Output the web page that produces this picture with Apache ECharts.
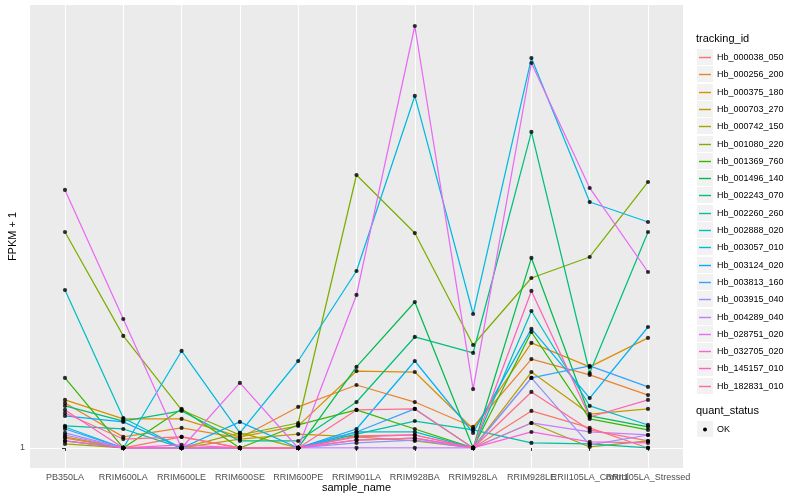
<!DOCTYPE html>
<html><head><meta charset="utf-8">
<script src="https://cdn.jsdelivr.net/npm/echarts@6/dist/echarts.min.js"></script>
<style>html,body{margin:0;padding:0;background:#fff}#c{width:800px;height:500px}</style>
</head><body><div id="c"></div>
<script>
// ---- categories / labels ----
const categories = ['PB350LA','RRIM600LA','RRIM600LE','RRIM600SE','RRIM600PE','RRIM901LA','RRIM928BA','RRIM928LA','RRIM928LE','RRII105LA_Control','RRII105LA_Stressed'];
const trackingIds = ['Hb_000038_050','Hb_000256_200','Hb_000375_180','Hb_000703_270','Hb_000742_150','Hb_001080_220','Hb_001369_760','Hb_001496_140','Hb_002243_070','Hb_002260_260','Hb_002888_020','Hb_003057_010','Hb_003124_020','Hb_003813_160','Hb_003915_040','Hb_004289_040','Hb_028751_020','Hb_032705_020','Hb_145157_010','Hb_182831_010'];
const quantStatus = ['OK'];
const yTickValues = [1];
const yLimits = [0.906, 8.872];

// ---- FPKM + 1 values per tracking_id (order = categories) ----
const Hb_000038_050 = [1.050, 1.000, 1.056, 1.000, 1.000, 1.061, 1.066, 1.000, 1.200, 1.104, 1.000];
const Hb_000256_200 = [1.248, 1.056, 1.104, 1.050, 1.224, 1.364, 1.254, 1.109, 1.550, 1.433, 1.298];
const Hb_000375_180 = [1.267, 1.154, 1.154, 1.056, 1.115, 1.461, 1.454, 1.098, 1.678, 1.491, 1.720];
const Hb_000703_270 = [1.056, 1.000, 1.000, 1.045, 1.071, 1.056, 1.035, 1.000, 1.454, 1.182, 1.212];
const Hb_000742_150 = [1.020, 1.000, 1.000, 1.077, 1.000, 1.040, 1.050, 1.000, 1.131, 1.005, 1.035];
const Hb_001080_220 = [2.899, 1.737, 1.206, 1.066, 1.131, 3.839, 2.884, 1.661, 2.311, 2.563, 3.709];
const Hb_001369_760 = [1.412, 1.000, 1.212, 1.000, 1.120, 1.206, 1.098, 1.000, 1.771, 1.154, 1.093];
const Hb_001496_140 = [1.035, 1.000, 1.000, 1.000, 1.000, 1.491, 2.053, 1.000, 2.551, 1.171, 1.109];
const Hb_002243_070 = [1.230, 1.142, 1.200, 1.035, 1.035, 1.254, 1.728, 1.597, 4.746, 1.447, 2.899];
const Hb_002260_260 = [1.115, 1.098, 1.000, 1.000, 1.000, 1.071, 1.142, 1.093, 1.025, 1.020, 1.000];
const Hb_002888_020 = [2.178, 1.159, 1.000, 1.000, 1.000, 1.082, 1.082, 1.000, 1.964, 1.230, 1.120];
const Hb_003057_010 = [1.109, 1.000, 1.613, 1.077, 1.535, 2.392, 5.667, 1.935, 6.832, 3.360, 3.045];
const Hb_003124_020 = [1.171, 1.137, 1.000, 1.137, 1.000, 1.098, 1.535, 1.077, 1.798, 1.279, 1.815];
const Hb_003813_160 = [1.098, 1.000, 1.000, 1.000, 1.000, 1.082, 1.212, 1.000, 1.412, 1.498, 1.351];
const Hb_003915_040 = [1.077, 1.000, 1.000, 1.000, 1.000, 1.025, 1.040, 1.000, 1.412, 1.015, 1.066];
const Hb_004289_040 = [1.066, 1.000, 1.000, 1.000, 1.000, 1.000, 1.000, 1.000, 1.131, 1.082, 1.066];
const Hb_028751_020 = [3.566, 1.888, 1.000, 1.378, 1.000, 2.126, 8.000, 1.337, 6.666, 3.601, 2.380];
const Hb_032705_020 = [1.035, 1.000, 1.015, 1.000, 1.000, 1.040, 1.050, 1.000, 1.082, 1.030, 1.025];
const Hb_145157_010 = [1.206, 1.000, 1.000, 1.000, 1.000, 1.056, 1.066, 1.000, 2.168, 1.165, 1.267];
const Hb_182831_010 = [1.188, 1.045, 1.056, 1.000, 1.000, 1.206, 1.212, 1.000, 1.318, 1.093, 1.035];

const seriesValues = [Hb_000038_050, Hb_000256_200, Hb_000375_180, Hb_000703_270, Hb_000742_150, Hb_001080_220, Hb_001369_760, Hb_001496_140, Hb_002243_070, Hb_002260_260, Hb_002888_020, Hb_003057_010, Hb_003124_020, Hb_003813_160, Hb_003915_040, Hb_004289_040, Hb_028751_020, Hb_032705_020, Hb_145157_010, Hb_182831_010];
const palette = ['#F8766D','#EA8331','#D89000','#C09B00','#A3A500','#7CAE00','#39B600','#00BB4E','#00BF7D','#00C1A3','#00BFC4','#00BAE0','#00B0F6','#35A2FF','#9590FF','#C77CFF','#E76BF3','#FA62DB','#FF62BC','#FF6C91'];

const FONT = '"Liberation Sans", Arial, Helvetica, sans-serif';
const lg = Math.log10;
const chart = echarts.init(document.getElementById('c'), null, {renderer: 'canvas'});

const lineSeries = seriesValues.map((vals, i) => ({
  type: 'line', name: trackingIds[i],
  data: vals.map((v, j) => [j, lg(v)]),
  showSymbol: false, symbol: 'none', silent: true, z: 2,
  lineStyle: {color: palette[i], width: 1.25},
  itemStyle: {color: palette[i]}
}));
const points = [];
seriesValues.forEach(vals => vals.forEach((v, j) => points.push([j, lg(v)])));

// legend (ggplot style) built from the name arrays
const legendX = 697, rowH = 17.3, firstRow = 57;
const g = [];
g.push({type: 'text', left: 696, top: 33, style: {text: 'tracking_id', font: '11px ' + FONT, fill: '#000'}});
trackingIds.forEach((id, i) => {
  const cy = Math.round(firstRow + rowH * i) + 0.5;
  g.push({type: 'rect', shape: {x: legendX, y: cy - 8.5, width: 16, height: 16}, style: {fill: '#F2F2F2'}});
  g.push({type: 'line', shape: {x1: legendX + 2, y1: cy, x2: legendX + 14, y2: cy}, style: {stroke: palette[i], lineWidth: 1.4}});
  g.push({type: 'text', style: {text: id, x: 717, y: cy, font: '9px ' + FONT, fill: '#000', verticalAlign: 'middle', textVerticalAlign: 'middle'}});
});
g.push({type: 'text', left: 696, top: 405, style: {text: 'quant_status', font: '11px ' + FONT, fill: '#000'}});
quantStatus.forEach((q, i) => {
  const cy = 429.5 + rowH * i;
  g.push({type: 'rect', shape: {x: legendX, y: cy - 8.5, width: 16, height: 16}, style: {fill: '#F2F2F2'}});
  g.push({type: 'circle', shape: {cx: legendX + 8, cy: cy, r: 2}, style: {fill: '#000'}});
  g.push({type: 'text', style: {text: q, x: 717, y: cy, font: '9px ' + FONT, fill: '#000', verticalAlign: 'middle', textVerticalAlign: 'middle'}});
});

const catIdx = categories.map((c, i) => i);
// ggplot prints every label even when two overlap; split them over two axes so none is dropped
const labelsA = catIdx.filter(i => i !== 9);
const labelsB = [9];
const xBase = {
  type: 'value', min: -0.6, max: categories.length - 1 + 0.6, position: 'bottom',
  axisLine: {show: false}
};
const labelStyle = {formatter: v => categories[Math.round(v)], fontFamily: FONT, fontSize: 9, color: '#4D4D4D', margin: 5, hideOverlap: false};

chart.setOption({
  animation: false,
  backgroundColor: '#FFFFFF',
  grid: {left: 30, right: 117, top: 5, bottom: 32, show: true, backgroundColor: '#EBEBEB', borderWidth: 0, containLabel: false, outerBoundsMode: 'none'},
  xAxis: [Object.assign({}, xBase, {
    name: 'sample_name', nameLocation: 'middle', nameGap: 14, nameMoveOverlap: false,
    nameTextStyle: {fontFamily: FONT, fontSize: 11, color: '#000'},
    axisTick: {show: true, length: 3, lineStyle: {color: '#333333', width: 1}, customValues: catIdx},
    axisLabel: Object.assign({customValues: labelsA}, labelStyle),
    splitLine: {show: true, lineStyle: {color: '#FFFFFF', width: 1.1}}
  }), Object.assign({}, xBase, {
    axisTick: {show: false, customValues: labelsB},
    axisLabel: Object.assign({customValues: labelsB}, labelStyle),
    splitLine: {show: false}
  })],
  yAxis: {
    type: 'value', min: lg(yLimits[0]), max: lg(yLimits[1]),
    name: 'FPKM + 1', nameLocation: 'middle', nameGap: 12, nameMoveOverlap: false,
    nameTextStyle: {fontFamily: FONT, fontSize: 11, color: '#000'},
    axisLine: {show: false},
    axisTick: {show: true, length: 3, lineStyle: {color: '#333333', width: 1}, customValues: yTickValues.map(lg)},
    axisLabel: {customValues: yTickValues.map(lg), formatter: v => String(Math.round(Math.pow(10, v) * 100) / 100), fontFamily: FONT, fontSize: 9, color: '#4D4D4D', margin: 5},
    splitLine: {show: true, lineStyle: {color: '#FFFFFF', width: 1.1}}
  },
  graphic: g,
  series: lineSeries.concat([{
    type: 'scatter', name: 'OK', data: points, symbol: 'circle', symbolSize: 4.2, z: 5, silent: true,
    itemStyle: {color: '#000000'}
  }])
});
</script></body></html>
